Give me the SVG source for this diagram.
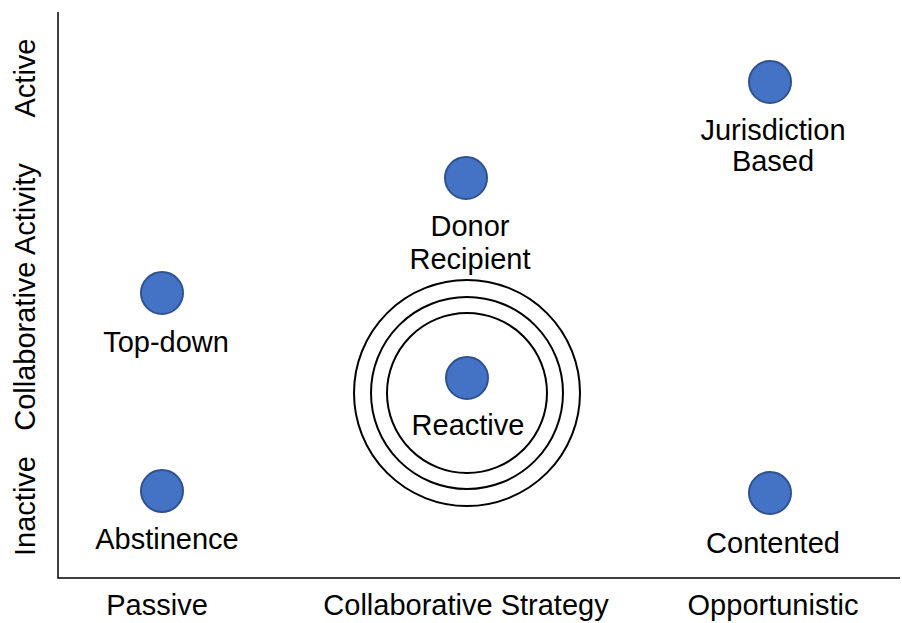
<svg xmlns="http://www.w3.org/2000/svg" width="902" height="623" viewBox="0 0 902 623">
  <style>
    text { font-family: "Liberation Sans", Arial, sans-serif; font-size: 29px; fill: #000; text-anchor: middle; }
    .dot { fill: #4472C4; stroke: #2F528F; stroke-width: 2; }
    .ring { fill: none; stroke: #000; stroke-width: 2; }
    .axis { fill: none; stroke: #000; stroke-width: 1.5; }
  </style>
  <rect width="902" height="623" fill="#fff"/>

  <!-- axes -->
  <g id="axes">
    <path class="axis" d="M58,12 V578 H900"/>
    <text transform="translate(35,78) rotate(-90)">Active</text>
    <text transform="translate(35,297) rotate(-90)">Collaborative Activity</text>
    <text transform="translate(35,506) rotate(-90)">Inactive</text>
    <text x="157" y="615">Passive</text>
    <text x="466" y="615">Collaborative Strategy</text>
    <text x="773" y="615">Opportunistic</text>
  </g>

  <!-- concentric rings around the reactive strategy -->
  <g id="connectors">
    <circle class="ring" cx="467" cy="393" r="113"/>
    <circle class="ring" cx="467" cy="393" r="96"/>
    <circle class="ring" cx="467" cy="393" r="80"/>
  </g>

  <g id="top-down">
    <circle class="dot" cx="162" cy="293" r="21"/>
    <text x="166" y="352">Top-down</text>
  </g>
  <g id="abstinence">
    <circle class="dot" cx="162" cy="491" r="21"/>
    <text x="167" y="549">Abstinence</text>
  </g>
  <g id="donor-recipient">
    <circle class="dot" cx="466" cy="178" r="21"/>
    <text x="470" y="236">Donor</text>
    <text x="470" y="269">Recipient</text>
  </g>
  <g id="reactive">
    <circle class="dot" cx="467" cy="378" r="21"/>
    <text x="468" y="435">Reactive</text>
  </g>
  <g id="jurisdiction-based">
    <circle class="dot" cx="770" cy="82" r="21"/>
    <text x="773" y="140">Jurisdiction</text>
    <text x="773" y="171">Based</text>
  </g>
  <g id="contented">
    <circle class="dot" cx="770" cy="493" r="21"/>
    <text x="773" y="553">Contented</text>
  </g>
</svg>
